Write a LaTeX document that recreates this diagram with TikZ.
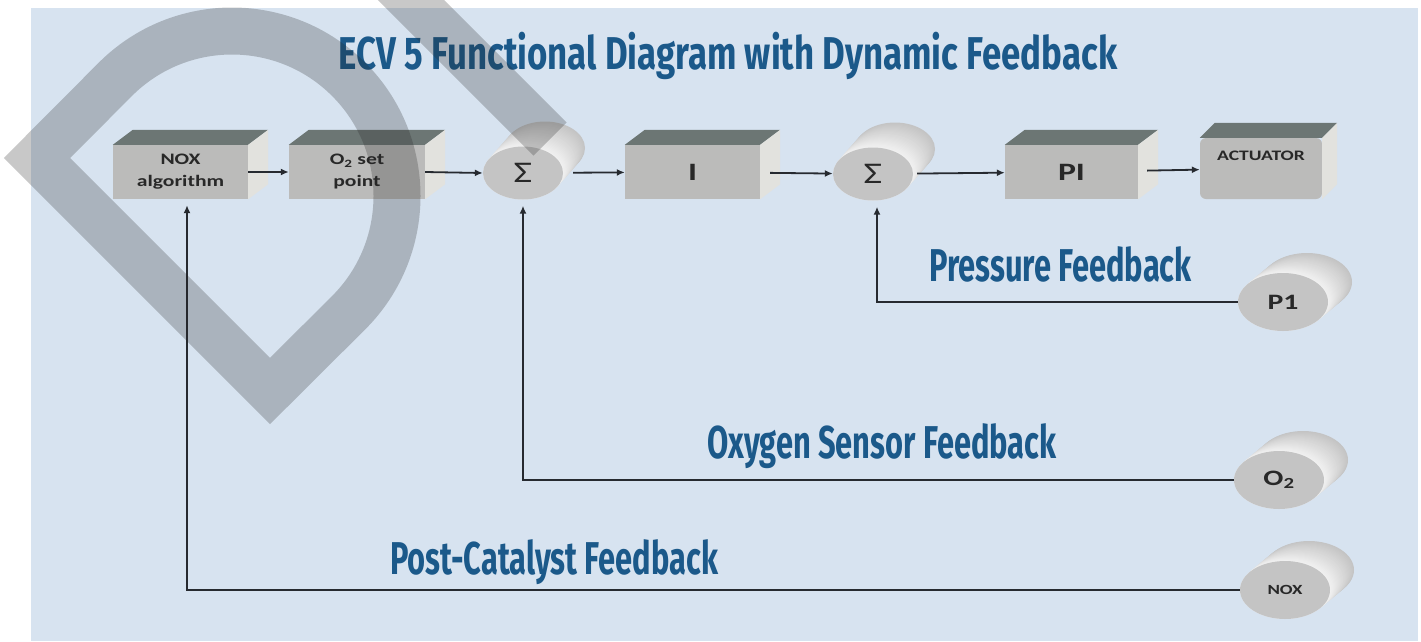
\documentclass[tikz,border=0pt]{standalone}
\usepackage{fontspec}
\newfontfamily\headfont{Fira Sans}[FakeStretch=0.67]
\newfontfamily\titlefont{Fira Sans}[FakeStretch=0.757]
\newfontfamily\boxfont{Carlito}[FakeStretch=1.35]
\definecolor{BgBlue}{RGB}{215,227,240}
\definecolor{TitleBlue}{RGB}{27,89,138}
\definecolor{BoxFront}{RGB}{187,187,186}
\definecolor{BoxTop}{RGB}{108,118,116}
\definecolor{BoxSide}{RGB}{226,226,222}
\definecolor{DrumFront}{RGB}{196,196,196}
\definecolor{LineDark}{RGB}{38,42,48}
\definecolor{TextDark}{RGB}{40,40,40}
\usetikzlibrary{arrows.meta, shapes.geometric, calc}
\tikzstyle{arrow} = [line width=1.8pt, LineDark, -{Latex[length=8pt,width=7pt]}]
\tikzstyle{feedback} = [line width=2.2pt, LineDark, -{Latex[length=8pt,width=7pt]}]
\tikzstyle{block} = [rectangle, fill=BoxFront, minimum width=135pt, minimum height=54pt, inner sep=0pt, align=center, text=TextDark, font=\boxfont\bfseries\fontsize{16}{22}\selectfont]
\tikzstyle{sumnode} = [ellipse, fill=DrumFront, minimum width=80pt, minimum height=53pt, inner sep=0pt, text=TextDark, font=\boxfont\fontsize{30}{30}\selectfont]
\tikzstyle{sensor} = [ellipse, fill=DrumFront, minimum width=90pt, minimum height=58pt, inner sep=0pt, text=TextDark, font=\boxfont\bfseries\fontsize{22}{22}\selectfont]
\tikzstyle{heading} = [text=TitleBlue, inner sep=0pt, font=\headfont\bfseries\fontsize{46}{46}\selectfont]
\tikzstyle{watermark} = [draw=black!85, line width=47pt, opacity=0.25, line join=miter]
% top and right faces of a box node
\newcommand{\boxfaces}[2]{%
  \fill[BoxTop] (#1.north west) -- ++(#2,-15) -- ([shift={(#2,-15)}]#1.north east) -- (#1.north east) -- cycle;
  \fill[BoxSide] (#1.north east) -- ++(#2,-15) -- ([shift={(#2,-15)}]#1.south east) -- (#1.south east) -- cycle;
}
% body of a drum, drawn from back to front
\newcommand{\drumbody}[4]{%
  \foreach \i in {0,...,24} {
    \pgfmathsetmacro{\t}{1-\i/24}
    \pgfmathsetmacro{\k}{5+18*\t}
    \fill[black!\k] ($(#1)+\t*(#2)$) ellipse [x radius=#3pt, y radius=#4pt];
  }
}

\begin{document}
\begin{tikzpicture}[x=1pt, y=-1pt]
  \useasboundingbox (0,0) rectangle (1421,641);
  \clip (0,0) rectangle (1421,641);
  \fill[white] (0,0) rectangle (1421,641);
  \fill[BgBlue] (31,8) rectangle (1418,641);

  % Title
  \node[heading, font=\titlefont\bfseries\fontsize{46}{46}\selectfont, anchor=base] (title) at (728,69) {ECV 5 Functional Diagram with Dynamic Feedback};

  % Forward path
  \node[block] (nox) at (180.5,172) {NOX\\algorithm};
  \node[block, minimum width=136pt] (o2sp) at (357,172) {O\textsubscript{2} set\\point};
  \drumbody{523,173}{22,-25}{40}{26.5}
  \node[sumnode] (sum1) at (523,173) {Σ};
  \node[block, font=\boxfont\bfseries\fontsize{25}{25}\selectfont] (integ) at (692.5,172) {I};
  \drumbody{873,174}{22,-25}{40}{26.5}
  \node[sumnode] (sum2) at (873,174) {Σ};
  \node[block, minimum width=133pt, font=\boxfont\bfseries\fontsize{25}{25}\selectfont] (pictl) at (1071.5,172) {PI};
  \node[block, rounded corners=6pt, minimum width=122pt, minimum height=61pt, inner ysep=4pt, text height=18pt, text depth=35pt, font=\boxfont\bfseries\fontsize{14.5}{15}\selectfont] (act) at (1261,168.5) {ACTUATOR};
  \boxfaces{nox}{20}
  \boxfaces{o2sp}{20}
  \boxfaces{integ}{20}
  \boxfaces{pictl}{20}
  \boxfaces{act}{15}

  % Sensors
  \drumbody{1283,302}{24,-20}{45}{29}
  \node[sensor] (p1) at (1283,302) {P1};
  \drumbody{1279,480}{24,-20}{45}{29}
  \node[sensor] (o2s) at (1279,480) {O\textsubscript{2}};
  \drumbody{1285,590}{24,-20}{45}{29}
  \node[sensor, font=\boxfont\bfseries\fontsize{14}{14}\selectfont] (noxs) at (1285,590) {NOX};

  % Connections
  \draw[arrow] (nox) -- (o2sp);
  \draw[arrow] (o2sp.east) -- (sum1.west);
  \draw[arrow, shorten <=10pt] (sum1) -- (integ);
  \draw[arrow, shorten <=10pt] (integ) -- (sum2);
  \draw[arrow, shorten <=4pt] (sum2) -- (pictl);
  \draw[arrow, shorten <=9pt] (pictl) -- (act);

  % Feedback loops
  \draw[feedback, shorten >=6pt] (p1.west) -| ([xshift=4pt]sum2.south);
  \draw[feedback, shorten >=6pt] (o2s.west) -| (sum1.south);
  \draw[feedback, shorten >=6pt] (noxs.west) -| ([xshift=6.5pt]nox.south);

  % Loop labels
  \node[heading, anchor=base west] (plabel) at (929,281) {Pressure Feedback};
  \node[heading, anchor=base west] (olabel) at (707,458) {Oxygen Sensor Feedback};
  \node[heading, anchor=base west] (nlabel) at (390,574) {Post-Catalyst Feedback};

  % Watermark
  \draw[watermark] (270,391) -- (37,158) -- (115.33,79.33) arc[start angle=135, end angle=-45, radius=165pt] -- cycle;
  \draw[watermark, line cap=butt] (391,-20) -- (550,139);
\end{tikzpicture}
\end{document}
